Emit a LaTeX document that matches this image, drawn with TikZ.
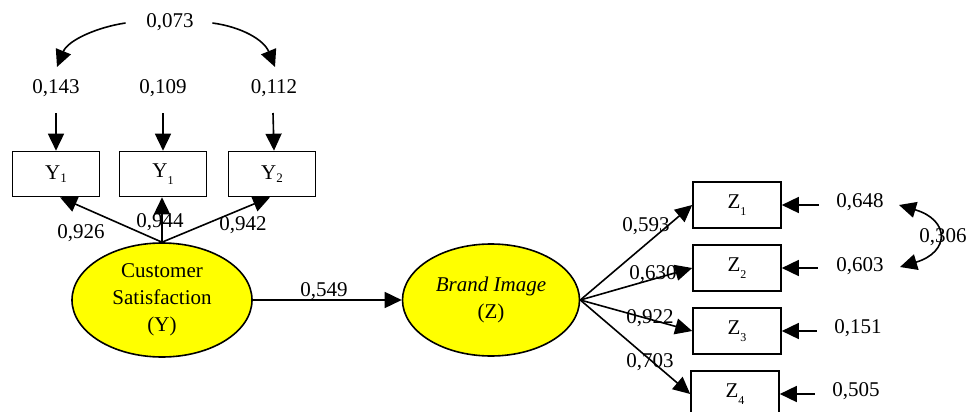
\documentclass[tikz,border=0pt]{standalone}
\usepackage{fontspec}
\setmainfont{Liberation Serif}
\usetikzlibrary{arrows.meta,shapes.geometric}
\definecolor{latfill}{RGB}{255,255,0}
\begin{document}
\begin{tikzpicture}[x=1pt,y=-1pt,line width=1.6pt,
  tip/.style={-{Triangle[length=17pt,width=16pt]}},
  dtip/.style={{Triangle[length=17pt,width=16pt]}-{Triangle[length=17pt,width=16pt]}},
  obs/.style={draw,rectangle,minimum width=87pt,minimum height=45pt,inner sep=0pt,font=\fontsize{21}{24}\selectfont},
  lat/.style={draw,ellipse,fill=latfill,inner sep=0pt,align=center,font=\fontsize{21}{27}\selectfont},
  num/.style={inner sep=1pt,font=\fontsize{21}{24}\selectfont}]
\useasboundingbox (0,0) rectangle (967,412);
\newcommand{\lowsub}[1]{\raisebox{-7pt}{\fontsize{12}{12}\selectfont #1}}
\newcommand{\smsub}[1]{\raisebox{-3pt}{\fontsize{13}{13}\selectfont #1}}
% latent
\node[lat,minimum width=180pt,minimum height=114pt] (Y) at (162,300) {Customer\\Satisfaction\\(Y)};
\node[lat,minimum width=177pt,minimum height=112pt] (Z) at (491,300) {\textit{Brand Image}\\(Z)};
% Y indicators
\node[obs] (Y1) at (56,174) {Y\smsub{1}};
\node[obs] (Y2) at (163,174) {Y\lowsub{1}};
\node[obs] (Y3) at (272,174) {Y\smsub{2}};
% Y errors
\node[num] (e1) at (56,88) {0,143};
\node[num] (e2) at (163,88) {0,109};
\node[num] (e3) at (274,88) {0,112};
\node[num] (c073) at (170,22) {0,073};
\draw[tip] ([yshift=-25pt]e1.center) -- (Y1.north);
\draw[tip] ([yshift=-25pt]e2.center) -- (Y2.north);
\draw[tip] ([xshift=-1pt,yshift=-25pt]e3.center) -- ([xshift=2pt]Y3.north);
\coordinate (t1) at (57,67);
\coordinate (t3) at (275,67);
\draw[tip] ([xshift=-19pt,yshift=-1pt]c073.west) .. controls (98,27) and (68,40) .. (t1);
\draw[tip] ([xshift=17pt,yshift=-1pt]c073.east) .. controls (242,27) and (264,40) .. (t3);
% loadings Y
\draw[tip] (Y.north) -- ([xshift=4pt]Y1.south);
\draw[tip] (Y.north) -- ([xshift=-1pt]Y2.south);
\draw[tip] (Y.north) -- ([xshift=-2pt]Y3.south);
\node[num] at (81,233) {0,926};
\node[num] at (160,222) {0,944};
\node[num] at (243,225) {0,942};
% structural
\draw[tip] (Y.east) -- (Z.west);
\node[num] at (324,291) {0,549};
% Z indicators
\node[obs,minimum width=88pt,minimum height=46pt] (Z1) at (737,205) {Z\lowsub{1}};
\node[obs,minimum width=88pt,minimum height=46pt] (Z2) at (737,268) {Z\lowsub{2}};
\node[obs,minimum width=88pt,minimum height=46pt] (Z3) at (737,331) {Z\lowsub{3}};
\node[obs,minimum width=88pt,minimum height=46pt] (Z4) at (735,394) {Z\lowsub{4}};
\draw[tip] (Z.east) -- (Z1.west);
\draw[tip] (Z.east) -- (Z2.west);
\draw[tip] (Z.east) -- (Z3.west);
\draw[tip] (Z.east) -- (Z4.west);
\node[num] at (646,226) {0,593};
\node[num] at (653,274) {0,630};
\node[num] at (650,318) {0,922};
\node[num] at (650,362) {0,703};
% Z errors
\node[num] (f1) at (860,202) {0,648};
\node[num] (f2) at (860,266) {0,603};
\node[num] (f3) at (858,328) {0,151};
\node[num] (f4) at (856,391) {0,505};
\draw[tip] ([xshift=37pt]Z1.east) -- (Z1.east);
\draw[tip] ([xshift=36pt]Z2.east) -- (Z2.east);
\draw[tip] ([xshift=35pt]Z3.east) -- (Z3.east);
\draw[tip] ([xshift=35pt]Z4.east) -- (Z4.east);
\coordinate (u1) at (899,205);
\coordinate (u2) at (900,267);
\draw[dtip] (u1) .. controls (950,220) and (950,252) .. (u2);
\node[num] at (943,237) {0,306};
\end{tikzpicture}
\end{document}
